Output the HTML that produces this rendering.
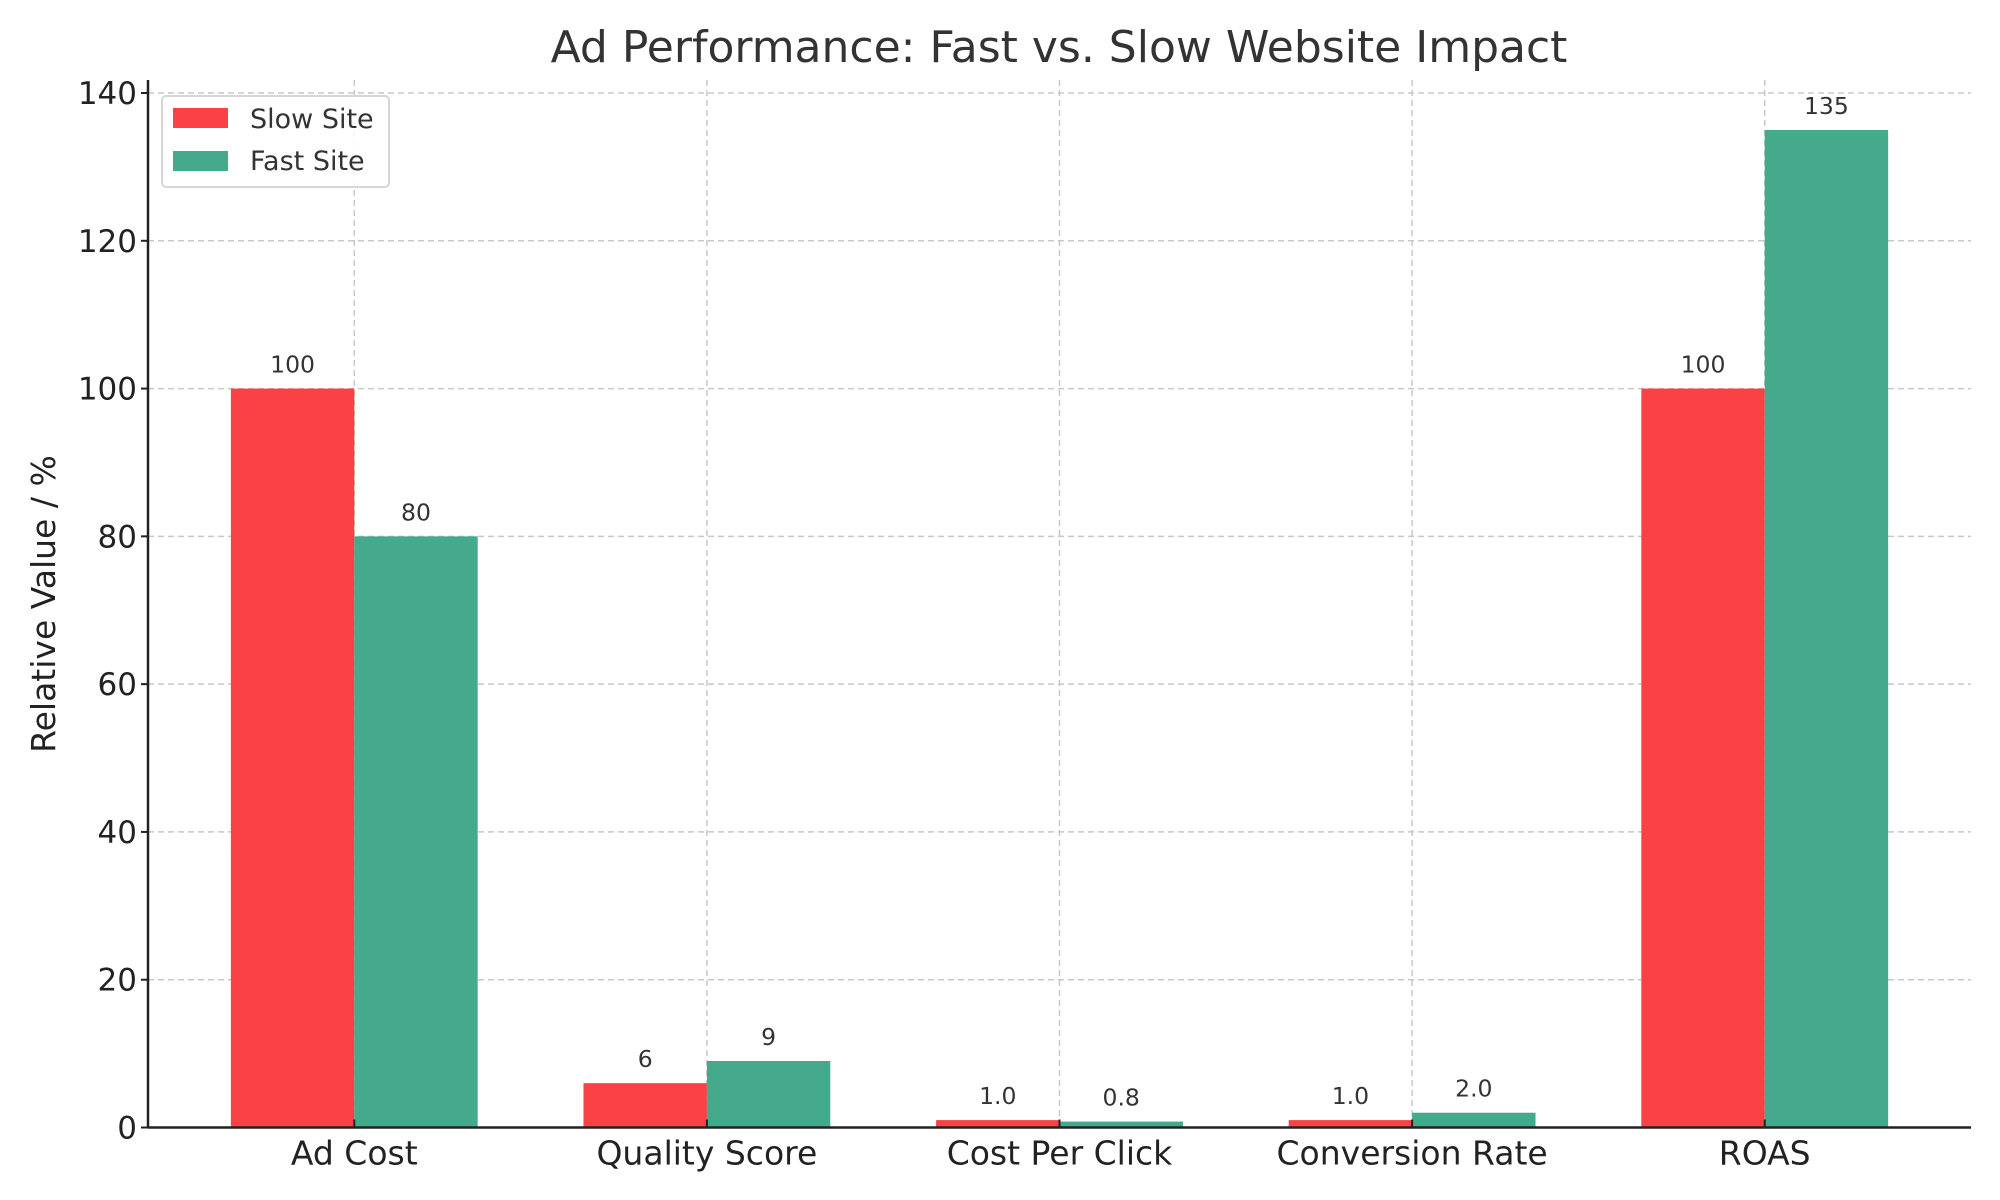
<!DOCTYPE html>
<html><head><meta charset="utf-8"><style>
html,body{margin:0;padding:0;background:#fff;}
svg{display:block;font-family:"DejaVu Sans","Liberation Sans",sans-serif;}
</style></head><body>
<svg id="chart" width="2000" height="1200" viewBox="0 0 2000 1200">
<text x="1059" y="62" text-anchor="middle" font-size="44" fill="#333">Ad Performance: Fast vs. Slow Website Impact</text>
<g id="grid"></g>
<g id="bars"></g>
<g id="axes"></g>
<text transform="translate(55,604) rotate(-90)" text-anchor="middle" font-size="33" fill="#222">Relative Value / %</text>
<g>
<rect x="162" y="96" width="227" height="91" rx="4" fill="#fff" fill-opacity="0.85" stroke="#d6d6d6" stroke-width="2"/>
<rect x="173" y="108" width="55" height="20" fill="#FA4246"/>
<text x="250" y="128" font-size="27" fill="#333">Slow Site</text>
<rect x="173" y="151" width="55" height="20" fill="#44AA8B"/>
<text x="250" y="170" font-size="27" fill="#333">Fast Site</text>
</g>
</svg>
<script>
const categories = ["Ad Cost","Quality Score","Cost Per Click","Conversion Rate","ROAS"];
const slowValues = [100, 6, 1.0, 1.0, 100];
const fastValues = [80, 9, 0.8, 2.0, 135];
const slowLabels = ["100","6","1.0","1.0","100"];
const fastLabels = ["80","9","0.8","2.0","135"];
const yTicks = [0,20,40,60,80,100,120,140];

const NS = "http://www.w3.org/2000/svg";
const L = 148, R = 1971, T = 80, B = 1127.5;
const xMin = -0.585, xMax = 4.585, yMin = 0, yMax = 140;
const barW = 0.35;
function xs(v){ return L + (v - xMin) / (xMax - xMin) * (R - L); }
function ys(v){ return B - (v - yMin) / (yMax - yMin) * (B - 93); }
function mk(tag, attrs, parent){ const e = document.createElementNS(NS, tag); for (const k in attrs) e.setAttribute(k, attrs[k]); parent.appendChild(e); return e; }

const grid = document.getElementById('grid');
const bars = document.getElementById('bars');
const axes = document.getElementById('axes');

yTicks.forEach(t => {
  const y = ys(t);
  const g = mk('line', {x1:L, x2:R, y1:y, y2:y, stroke:'#c8c8c8', 'stroke-width':1.5, 'stroke-dasharray':'6,4'}, grid);
  
  
  const tk = mk('line', {x1:L-7, x2:L, y1:y, y2:y, stroke:'#222', 'stroke-width':2}, axes);
  
  
  const tl = mk('text', {x:L-11, y:y+11, 'text-anchor':'end', 'font-size':31, fill:'#222'}, axes);
  tl.textContent = t;
  
  
});

categories.forEach((c, i) => {
  const x = xs(i);
  const g = mk('line', {x1:x, x2:x, y1:T, y2:B, stroke:'#c8c8c8', 'stroke-width':1.5, 'stroke-dasharray':'6,4'}, grid);
  
  

  const sx = xs(i - barW), fx = xs(i), w = xs(barW) - xs(0);
  const sb = mk('rect', {x:sx, y:ys(slowValues[i]), width:w, height:ys(0)-ys(slowValues[i]), fill:'#FA4246'}, bars);
  
  
  const fb = mk('rect', {x:fx, y:ys(fastValues[i]), width:w, height:ys(0)-ys(fastValues[i]), fill:'#44AA8B'}, bars);
  
  

  const sl = mk('text', {x:sx + w/2, y:ys(slowValues[i]) - 16, 'text-anchor':'middle', 'font-size':23.5, fill:'#333'}, bars);
  sl.textContent = slowLabels[i];
  
  
  const fl = mk('text', {x:fx + w/2, y:ys(fastValues[i]) - 16, 'text-anchor':'middle', 'font-size':23.5, fill:'#333'}, bars);
  fl.textContent = fastLabels[i];
  
  

  const tk = mk('line', {x1:x, x2:x, y1:B, y2:B-8, stroke:'#222', 'stroke-width':2}, axes);
  
  
  const lb = mk('text', {x:x, y:B+37, 'text-anchor':'middle', 'font-size':33, fill:'#222'}, axes);
  lb.textContent = c;
  
  
});

const ya = mk('line', {x1:L, x2:L, y1:T, y2:B+1, stroke:'#222', 'stroke-width':2.5}, axes);


const xa = mk('line', {x1:L, x2:R, y1:B, y2:B, stroke:'#222', 'stroke-width':2.5}, axes);


</script>
</body></html>
